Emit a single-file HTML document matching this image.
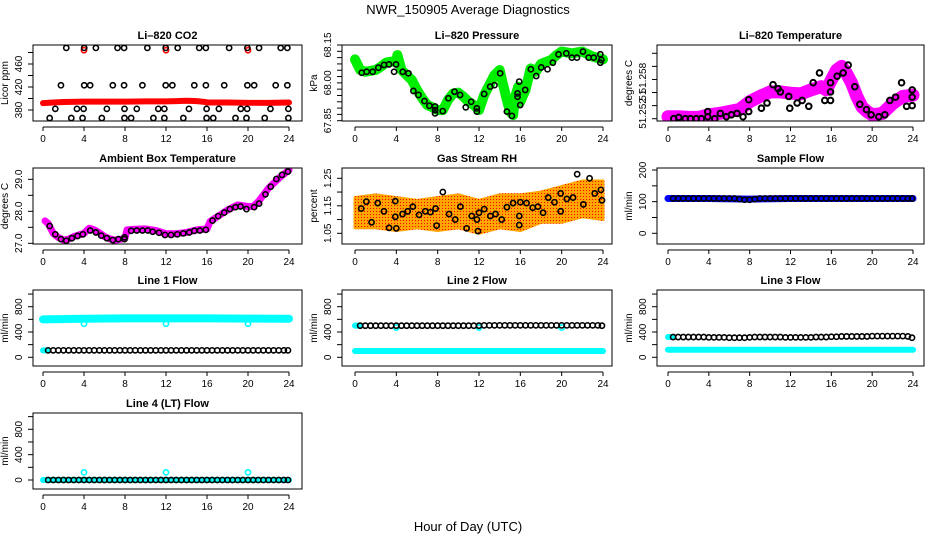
<!DOCTYPE html>
<html><head><meta charset="utf-8">
<style>
html,body{margin:0;padding:0;background:#fff;}
svg{display:block;font-family:"Liberation Sans",sans-serif;}
</style></head>
<body>
<svg id="chart" width="936" height="540" viewBox="0 0 936 540" xmlns="http://www.w3.org/2000/svg">
<defs>
<pattern id="rhpat" width="3" height="3" patternUnits="userSpaceOnUse">
<rect width="3" height="3" fill="#ffa500"/><rect x="1" y="1" width="1" height="1" fill="#ff0000"/>
</pattern>
</defs>
<text x="468" y="14" text-anchor="middle" font-size="13">NWR_150905  Average Diagnostics</text>
<text x="468" y="531" text-anchor="middle" font-size="13">Hour of Day (UTC)</text>
</svg>
<script>
// ---------- data ----------
const xTicks = [0,4,8,12,16,20,24];
const flowHours = [0.5,1,1.5,2,2.5,3,3.5,4,4.5,5,5.5,6,6.5,7,7.5,8,8.5,9,9.5,10,10.5,11,11.5,12,12.5,13,13.5,14,14.5,15,15.5,16,16.5,17,17.5,18,18.5,19,19.5,20,20.5,21,21.5,22,22.5,23,23.5,23.9];

const co2Hours = [0.65,1.2,1.75,2.27,2.76,3.31,3.86,3.96,4.02,4.02,4.6,5.16,5.74,6.23,6.81,7.27,7.91,7.91,7.95,7.95,8.6,9.15,9.7,10.18,10.77,11.25,11.84,11.84,11.97,11.97,12.62,13.14,13.69,14.24,14.76,15.24,15.89,15.89,15.96,15.96,16.61,17.16,17.68,18.16,18.78,19.3,19.85,19.92,19.94,19.94,20.6,21.08,21.63,22.19,22.7,23.19,23.84,23.84,23.94,23.94];
const co2Black = [366,382,423,488,366,382,366,382,423,488,423,488,366,382,423,488,488,423,382,366,366,382,423,488,366,382,382,366,423,488,423,488,366,382,423,488,488,423,382,366,366,382,423,488,366,382,366,382,423,488,423,488,366,382,423,488,488,423,382,366];
const co2RedHours = [0,1,2,4,6,8,10,12,13,14,15,15.8,16,18,20,22,24];
const co2Red = [392,393,394,394.5,394.5,394.5,395,395,395.5,396,395.5,394,393,393,392.5,392.5,393];
const co2OutHours = [4,12,20];
const co2Out = [484,484,484];

const presHours = [0,0.5,1,2,2.5,3,3.5,4,4.1,4.5,5,5.5,6,6.5,7,7.5,8,8.5,9,9.5,10,10.5,11,11.5,12,12.5,13,13.5,14,14.3,14.7,15,15.3,15.5,15.8,16,16.5,17,17.5,18,19,19.5,20,21,22,23,24];
const presGreen = [68.093,68.051,68.044,68.051,68.064,68.080,68.084,68.084,68.110,68.051,68.031,68.011,67.972,67.939,67.912,67.903,67.892,67.892,67.932,67.958,67.961,67.945,67.925,67.912,67.892,67.952,67.991,68.031,68.051,67.998,67.932,67.886,67.872,67.945,67.985,67.925,67.972,68.057,68.044,68.075,68.091,68.110,68.124,68.117,68.124,68.104,68.093];
const presBlackHours = [0.65,1.13,1.71,2.26,2.81,3.29,3.78,3.97,4.62,5.17,5.65,6.14,6.72,7.2,7.75,7.75,7.75,8.49,9.04,9.63,10.17,10.72,11.24,11.79,11.79,12.5,13.08,13.5,14.05,14.7,15.18,15.73,15.73,15.89,15.99,16.47,17.02,17.54,18.02,18.63,19.15,19.7,20.45,20.99,21.48,22.06,22.61,23.1,23.74,23.74,23.84];
const presBlack = [68.040,68.044,68.044,68.060,68.071,68.073,68.044,68.073,68.044,68.038,67.968,67.952,67.928,67.909,67.906,67.892,67.879,67.888,67.939,67.965,67.952,67.903,67.925,67.899,67.886,67.956,67.985,67.991,68.038,67.886,67.869,67.945,67.958,68.005,67.912,67.972,68.054,68.027,68.061,68.054,68.080,68.113,68.117,68.100,68.100,68.124,68.100,68.100,68.113,68.080,68.091];

const tempHours = [0,1,2,3,4,5,6,7,8,9,10,11,12,13,14,15,15.5,16,16.5,17,17.5,18,18.5,19,19.5,20,21,22,23,24];
const tempMag = [51.2503,51.2503,51.2502,51.2502,51.2506,51.2508,51.2511,51.2514,51.2526,51.2534,51.2541,51.2541,51.2539,51.2538,51.2544,51.2549,51.2544,51.2559,51.2574,51.2580,51.2569,51.2554,51.2534,51.2518,51.2511,51.2506,51.2508,51.2523,51.2534,51.2536];
const tempBlackHours = [0.56,1.05,1.7,2.19,2.78,3.27,3.89,3.89,4.58,5.13,5.72,6.21,6.76,7.35,7.91,7.91,9.15,9.7,10.29,10.78,11.01,11.83,11.93,12.65,13.14,13.79,14.22,14.84,15.36,15.92,15.92,15.92,16.57,17.16,17.65,18.3,18.79,19.44,19.9,20.65,21.24,21.73,22.29,22.88,23.37,23.92,23.92,23.92];
const tempBlack = [51.2500,51.2502,51.2500,51.2500,51.2500,51.2500,51.2511,51.2503,51.2500,51.2508,51.2503,51.2506,51.2508,51.2503,51.2529,51.2511,51.2516,51.2524,51.2552,51.2546,51.2541,51.2534,51.2516,51.2524,51.2528,51.2519,51.2555,51.2570,51.2528,51.2528,51.2541,51.2555,51.2565,51.2570,51.2582,51.2549,51.2522,51.2514,51.2506,51.2503,51.2506,51.2528,51.2533,51.2555,51.2519,51.2533,51.2544,51.2520];

const ambHours = [0.2,0.5,1,1.5,2,2.5,3,3.5,4,4.5,5,5.5,6,6.5,7,7.5,8,8.2,9,10,11,12,13,14,15,16,16.3,17,18,19,20,20.5,21,22,23,24];
const ambMag = [27.70,27.62,27.31,27.18,27.10,27.13,27.21,27.26,27.31,27.47,27.42,27.33,27.21,27.14,27.10,27.12,27.16,27.42,27.44,27.45,27.40,27.30,27.30,27.34,27.42,27.45,27.68,27.83,28.04,28.20,28.15,28.15,28.30,28.72,29.03,29.29];
const ambBlackHours = [0.65,1.2,1.75,2.27,2.82,3.37,3.89,4.61,5.16,5.68,6.23,6.81,7.36,7.95,7.95,8.6,9.15,9.7,10.22,10.7,11.32,11.9,12.49,13.1,13.69,14.27,14.76,15.31,15.89,16.54,17.09,17.68,18.23,18.78,19.27,19.85,20.6,21.08,21.7,22.22,22.77,23.32,23.9];
const ambBlack = [27.54,27.28,27.13,27.08,27.16,27.23,27.28,27.40,27.34,27.24,27.16,27.10,27.13,27.19,27.13,27.39,27.40,27.40,27.40,27.36,27.33,27.26,27.26,27.28,27.31,27.34,27.39,27.40,27.42,27.71,27.85,27.96,28.07,28.13,28.15,28.07,28.13,28.24,28.53,28.77,29.01,29.14,29.24];

const rhHours = [0,2,4,6,8,10,12,14,16,18,20,22,24];
const rhLow = [1.07,1.07,1.06,1.07,1.06,1.07,1.05,1.07,1.06,1.09,1.09,1.11,1.10];
const rhHigh = [1.18,1.19,1.18,1.17,1.18,1.19,1.17,1.19,1.19,1.20,1.22,1.24,1.24];
const rhBlackHours = [0.6,1.1,1.6,2.2,2.8,3.3,3.9,3.9,4.0,4.6,5.1,5.6,6.2,6.8,7.3,7.8,7.9,8.5,9.1,9.7,10.2,10.8,11.3,11.8,11.9,12.0,12.5,13.1,13.6,14.2,14.7,15.3,15.9,15.9,16.0,16.6,17.2,17.7,18.2,18.7,19.3,19.9,19.9,20.5,21.1,21.5,22.1,22.7,23.2,23.8,23.9];
const rhBlack = [1.14,1.165,1.09,1.16,1.13,1.07,1.11,1.167,1.068,1.12,1.13,1.147,1.117,1.13,1.127,1.14,1.078,1.20,1.12,1.10,1.147,1.068,1.113,1.10,1.058,1.125,1.138,1.113,1.12,1.10,1.145,1.16,1.113,1.08,1.163,1.16,1.143,1.147,1.125,1.18,1.163,1.13,1.195,1.175,1.18,1.265,1.155,1.25,1.195,1.208,1.17];

const lineHours = [0,4,8,12,16,20,24];
const sampleBlue = [110,110,108,110,110,110,110];
const sampleBlack = [110,110,110,110,110,110,110,110,110,110,110,110,110,108,106,106,108,110,110,110,110,110,110,110,110,110,110,110,110,110,110,110,110,110,110,110,110,110,110,110,110,110,110,110,110,110,110,110];
const l1Cyan = [600,610,615,615,615,612,610];
const l1Black = [110,110,110,110,110,110,110,110,110,110,110,110,110,110,110,110,110,110,110,110,110,110,110,110,110,110,110,110,110,110,110,110,110,110,110,110,110,110,110,110,110,110,110,110,110,110,110,110];
const l1CyanOut = [530,530,530];
const l2Cyan = [100,100,100,100,100,100,100];
const l2Black = [500,500,500,500,500,500,500,500,500,500,500,500,500,500,500,500,500,500,500,500,500,500,500,500,505,505,505,505,505,505,505,505,505,505,505,505,505,505,505,505,505,505,505,505,505,505,505,500];
const l2CyanOut = [470,470,470];
const l3Cyan = [120,120,120,120,120,120,120];
const l3Black = [320,320,320,320,320,320,320,315,315,315,315,310,310,310,310,315,320,320,320,320,320,320,315,315,315,315,315,315,320,320,320,325,325,330,330,330,330,330,330,335,335,335,335,335,335,335,330,310];
const l4Cyan = [0,0,0,0,0,0,0];
const l4Black = [0,0,0,0,0,0,0,0,0,0,0,0,0,0,0,0,0,0,0,0,0,0,0,0,0,0,0,0,0,0,0,0,0,0,0,0,0,0,0,0,0,0,0,0,0,0,0,0];
const l4CyanOut = [120,120,120];

// ---------- drawing ----------
const NS = "http://www.w3.org/2000/svg";
const svg = document.getElementById('chart');
function mk(tag, attrs, parent){
  const e = document.createElementNS(NS, tag);
  for (const k in attrs) e.setAttribute(k, attrs[k]);
  (parent||svg).appendChild(e);
  return e;
}
const COLS = [{l:33,r:302,x0:43,x24:289},{l:342,r:612,x0:355,x24:603},{l:657,r:924,x0:668,x24:913}];
const ROWS = [{t:45,b:121},{t:168,b:244},{t:290,b:366},{t:413,b:489}];

function panel(ci, ri, name, title, ylab, v0, p0, v1, p1, ticks, labels){
  const c = COLS[ci], r = ROWS[ri];
  const g = mk('g', {});
  
  
  const xs = h => c.x0 + h/24*(c.x24-c.x0);
  const ys = v => p0 + (v-v0)*(p1-p0)/(v1-v0);
  const clip = mk('clipPath', {id:'clip-'+name}, g);
  mk('rect', {x:c.l, y:r.t, width:c.r-c.l, height:r.b-r.t}, clip);
  const plot = mk('g', {'clip-path':'url(#clip-'+name+')'}, g);
  
  
  const box = mk('rect', {x:c.l, y:r.t, width:c.r-c.l, height:r.b-r.t, fill:'none', stroke:'#000', 'stroke-width':1}, g);
  
  
  const tt = mk('text', {x:(c.l+c.r)/2, y:r.t-6, 'text-anchor':'middle', 'font-size':11, 'font-weight':'bold'}, g);
  tt.textContent = title;
  
  
  const yl = mk('text', {transform:'translate('+(c.l-25)+','+((r.t+r.b)/2)+') rotate(-90)', 'text-anchor':'middle', 'font-size':10}, g);
  yl.textContent = ylab;
  
  
  ticks.forEach(v => {
    const y = ys(v);
    const tk = mk('line', {x1:c.l-5, x2:c.l, y1:y, y2:y, stroke:'#000'}, g);
    
    
  });
  labels.forEach(lb => {
    const y = ys(lb[0]);
    const t = mk('text', {transform:'translate('+(c.l-11)+','+y+') rotate(-90)', 'text-anchor':'middle', 'font-size':10}, g);
    t.textContent = lb[1];
    
    
  });
  mk('line', {x1:c.x0, x2:c.x24, y1:r.b+6, y2:r.b+6, stroke:'#000'}, g);
  xTicks.forEach(h => {
    const x = xs(h);
    const tk = mk('line', {x1:x, x2:x, y1:r.b+6, y2:r.b+10, stroke:'#000'}, g);
    
    
    const t = mk('text', {x:x, y:r.b+21, 'text-anchor':'middle', 'font-size':10}, g);
    t.textContent = h;
    
    
  });
  return {plot, xs, ys};
}
function thickLine(P, hs, vs, color, w, nm){
  const pts = hs.map((h,i)=>P.xs(h)+','+P.ys(vs[i])).join(' ');
  const e = mk('polyline', {points:pts, fill:'none', stroke:color, 'stroke-width':w, 'stroke-linejoin':'round', 'stroke-linecap':'round'}, P.plot);
  
  
}
function dots(P, hs, vs, color, nm, rr, sw){
  hs.forEach((h,i)=>{
    const e = mk('circle', {cx:P.xs(h), cy:P.ys(vs[i]), r:rr||2.6, fill:'none', stroke:color, 'stroke-width':sw||1.6}, P.plot);
    
    
  });
}
function band(P, hs, lo, hi, fill, nm){
  const a = hs.map((h,i)=>P.xs(h)+','+P.ys(hi[i]));
  const b = hs.map((h,i)=>P.xs(h)+','+P.ys(lo[i])).reverse();
  const e = mk('polygon', {points:a.concat(b).join(' '), fill:fill, stroke:fill, 'stroke-width':3, 'stroke-linejoin':'round'}, P.plot);
  
  
}

// CO2
let P = panel(0,0,'co2-panel','Li\u2013820 CO2','Licor ppm',380,110,460,64,[380,400,420,440,460,480],[[380,'380'],[420,'420'],[460,'460']]);
thickLine(P, co2RedHours, co2Red, '#ff0000', 6, 'co2-red-series');
dots(P, co2OutHours, co2Out, '#ff0000', 'co2-red-outlier');
dots(P, co2Hours, co2Black, '#000', 'co2-average-point');

// Pressure
P = panel(1,0,'pressure-panel','Li\u2013820 Pressure','kPa',67.85,120.7,68.15,45,[67.85,67.875,67.9,67.925,67.95,67.975,68.0,68.025,68.05,68.075,68.1,68.125,68.15],[[67.85,'67.85'],[68.0,'68.00'],[68.15,'68.15']]);
thickLine(P, presHours, presGreen, '#00ee00', 10, 'pressure-green-series');
dots(P, presBlackHours, presBlack, '#000', 'pressure-average-point');

// Temperature
P = panel(2,0,'li820-temp-panel','Li\u2013820 Temperature','degrees C',51.250,118.7,51.260,53.3,[51.250,51.252,51.254,51.256,51.258,51.260],[[51.2508,'51.252'],[51.2536,'51'],[51.2562,'51.258']]);
thickLine(P, tempHours, tempMag, '#ff00ff', 13, 'temp-magenta-series');
dots(P, tempBlackHours, tempBlack, '#000', 'temp-average-point', 2.8, 2);

// Ambient
P = panel(0,1,'ambient-temp-panel','Ambient Box Temperature','degrees C',27.0,243.3,29.0,179.3,[27.0,27.5,28.0,28.5,29.0],[[27.0,'27.0'],[28.0,'28.0'],[29.0,'29.0']]);
thickLine(P, ambHours, ambMag, '#ff00ff', 7, 'ambient-magenta-series');
dots(P, ambBlackHours, ambBlack, '#000', 'ambient-average-point');

// RH
P = panel(1,1,'rh-panel','Gas Stream RH','percent',1.05,233.3,1.25,178.3,[1.05,1.10,1.15,1.20,1.25],[[1.05,'1.05'],[1.15,'1.15'],[1.25,'1.25']]);
band(P, rhHours, rhLow, rhHigh, 'url(#rhpat)', 'rh-orange-band');
dots(P, rhBlackHours, rhBlack, '#000', 'rh-average-point');

// Sample flow
P = panel(2,1,'sample-flow-panel','Sample Flow','ml/min',0,233.3,200,170,[0,50,100,150,200],[[0,'0'],[100,'100'],[200,'200']]);
thickLine(P, lineHours, sampleBlue, '#0000ff', 7, 'sample-flow-blue-series');
dots(P, flowHours, sampleBlack, '#000', 'sample-flow-average-point');

const flowTicks = [0,200,400,600,800,1000];
const flowLabels = [[0,'0'],[400,'400'],[800,'800']];
// Line 1
P = panel(0,2,'line1-flow-panel','Line 1 Flow','ml/min',0,357.3,800,306.7,flowTicks,flowLabels);
thickLine(P, lineHours, l1Cyan, '#00ffff', 8, 'line1-cyan-series');
dots(P, co2OutHours, l1CyanOut, '#00ffff', 'line1-cyan-outlier');
thickLine(P, [0,0.4], [110,110], '#00ffff', 6, 'line1-cyan-start');
dots(P, flowHours, l1Black, '#000', 'line1-average-point');
// Line 2
P = panel(1,2,'line2-flow-panel','Line 2 Flow','ml/min',0,357.3,800,306.7,flowTicks,flowLabels);
thickLine(P, lineHours, l2Cyan, '#00ffff', 6, 'line2-cyan-series');
dots(P, co2OutHours, l2CyanOut, '#00ffff', 'line2-cyan-outlier');
thickLine(P, [0,0.4], [500,500], '#00ffff', 6, 'line2-cyan-start');
dots(P, flowHours, l2Black, '#000', 'line2-average-point');
// Line 3
P = panel(2,2,'line3-flow-panel','Line 3 Flow','ml/min',0,357.3,800,306.7,flowTicks,flowLabels);
thickLine(P, lineHours, l3Cyan, '#00ffff', 6, 'line3-cyan-series');
thickLine(P, [0,0.4], [320,320], '#00ffff', 6, 'line3-cyan-start');
dots(P, flowHours, l3Black, '#000', 'line3-average-point');
// Line 4
P = panel(0,3,'line4-flow-panel','Line 4 (LT) Flow','ml/min',0,480,800,429.3,flowTicks,flowLabels);
thickLine(P, lineHours, l4Cyan, '#00ffff', 6, 'line4-cyan-series');
dots(P, co2OutHours, l4CyanOut, '#00ffff', 'line4-cyan-outlier');
dots(P, flowHours, l4Black, '#000', 'line4-average-point');
</script>
</body></html>
